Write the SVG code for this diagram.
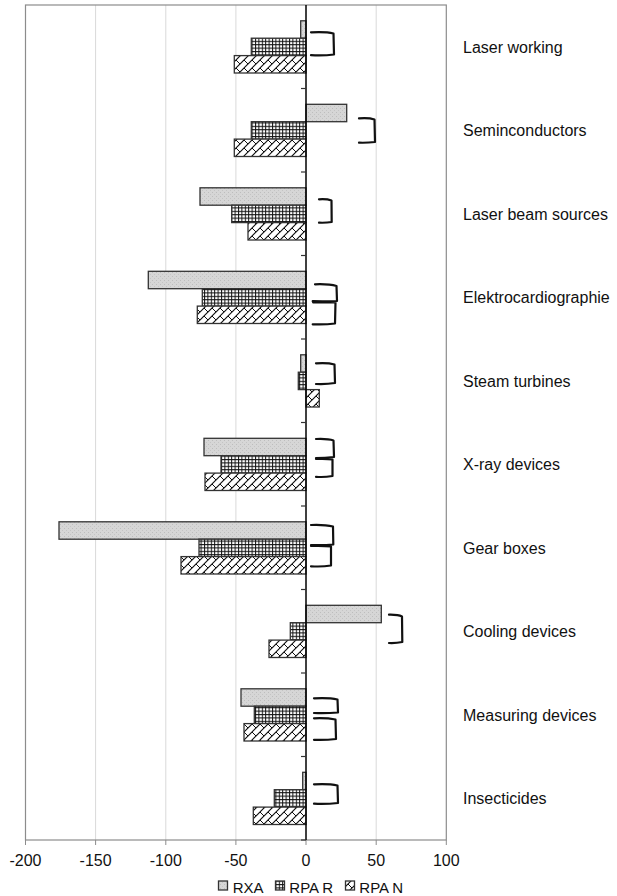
<svg xmlns="http://www.w3.org/2000/svg" width="617" height="896" viewBox="0 0 617 896">
<style>
.frame{fill:none;stroke:#8c8c8c;stroke-width:1.2}
.grid{stroke:#d9d9d9;stroke-width:1}
.tick{stroke:#8c8c8c;stroke-width:1}
.zero{stroke:#000;stroke-width:1.5}
.ztick{stroke:#333;stroke-width:1.2}
.rxa{fill:url(#pRXA);stroke:#333;stroke-width:1.3}
.rpar{fill:url(#pGrid);stroke:#333;stroke-width:1.3}
.rpan{fill:url(#pZig);stroke:#333;stroke-width:1.3}
.br{fill:none;stroke:#111;stroke-width:2.2;stroke-linecap:round;stroke-linejoin:round}
.cat{font-family:"Liberation Sans",Arial,sans-serif;font-size:16px;fill:#111}
.ax{font-family:"Liberation Sans",Arial,sans-serif;font-size:16px;fill:#111;text-anchor:middle}
.lg{font-family:"Liberation Sans",Arial,sans-serif;font-size:15px;fill:#111}
</style>
<defs>
<pattern id="pRXA" patternUnits="userSpaceOnUse" width="4" height="4">
<rect width="4" height="4" fill="#d6d6d6"/>
<rect x="0" y="0" width="1" height="1" fill="#bdbdbd"/>
<rect x="2" y="2" width="1" height="1" fill="#c4c4c4"/>
</pattern>
<pattern id="pGrid" patternUnits="userSpaceOnUse" width="3.4" height="3.4">
<rect width="3.4" height="3.4" fill="#fff"/>
<path d="M0 0.5H3.4M0.5 0V3.4" stroke="#111" stroke-width="1"/>
</pattern>
<pattern id="pZig" patternUnits="userSpaceOnUse" width="8" height="8">
<rect width="8" height="8" fill="#fff"/>
<path d="M-1 9L9 -1M-5 5L5 -5M3 13L13 3" stroke="#111" stroke-width="1.2"/>
<path d="M4 4L8 8" stroke="#111" stroke-width="1"/>
</pattern>
</defs>

<g id="plot-frame">
<line class="grid" x1="95.6" y1="5" x2="95.6" y2="840"/>
<line class="grid" x1="165.8" y1="5" x2="165.8" y2="840"/>
<line class="grid" x1="235.9" y1="5" x2="235.9" y2="840"/>
<line class="grid" x1="376.2" y1="5" x2="376.2" y2="840"/>
<rect class="frame" x="25.5" y="5" width="420.8" height="835"/>
<g class="tick">
<line x1="25.5" y1="840" x2="25.5" y2="845"/>
<line x1="95.6" y1="840" x2="95.6" y2="845"/>
<line x1="165.8" y1="840" x2="165.8" y2="845"/>
<line x1="235.9" y1="840" x2="235.9" y2="845"/>
<line x1="306" y1="840" x2="306" y2="845"/>
<line x1="376.2" y1="840" x2="376.2" y2="845"/>
<line x1="446.3" y1="840" x2="446.3" y2="845"/>
</g>
</g>

<g id="x-axis-labels">
<text class="ax" x="25.5" y="866">-200</text>
<text class="ax" x="95.6" y="866">-150</text>
<text class="ax" x="165.8" y="866">-100</text>
<text class="ax" x="235.9" y="866">-50</text>
<text class="ax" x="306" y="866">0</text>
<text class="ax" x="376.2" y="866">50</text>
<text class="ax" x="446.3" y="866">100</text>
</g>

<g id="cat-laser-working">
<rect class="rxa" x="300.7" y="20.8" width="5.3" height="17.4"/>
<rect class="rpar" x="251.3" y="38.2" width="54.7" height="17.4"/>
<rect class="rpan" x="234.3" y="55.6" width="71.7" height="17.4"/>
<text class="cat" x="463" y="52.7">Laser working</text>
</g>
<g id="cat-seminconductors">
<rect class="rxa" x="306" y="104.3" width="40.7" height="17.4"/>
<rect class="rpar" x="251.3" y="121.7" width="54.7" height="17.4"/>
<rect class="rpan" x="234.3" y="139.1" width="71.7" height="17.4"/>
<text class="cat" x="463" y="136.2">Seminconductors</text>
</g>
<g id="cat-laser-beam-sources">
<rect class="rxa" x="200" y="187.8" width="106" height="17.4"/>
<rect class="rpar" x="231.7" y="205.2" width="74.3" height="17.4"/>
<rect class="rpan" x="248" y="222.6" width="58" height="17.4"/>
<text class="cat" x="463" y="219.7">Laser beam sources</text>
</g>
<g id="cat-elektrocardiographie">
<rect class="rxa" x="148.3" y="271.3" width="157.7" height="17.4"/>
<rect class="rpar" x="202.3" y="288.7" width="103.7" height="17.4"/>
<rect class="rpan" x="197.3" y="306.1" width="108.7" height="17.4"/>
<text class="cat" x="463" y="303.2">Elektrocardiographie</text>
</g>
<g id="cat-steam-turbines">
<rect class="rxa" x="300.7" y="354.8" width="5.3" height="17.4"/>
<rect class="rpar" x="298.3" y="372.2" width="7.7" height="17.4"/>
<rect class="rpan" x="306" y="389.6" width="13.3" height="17.4"/>
<text class="cat" x="463" y="386.7">Steam turbines</text>
</g>
<g id="cat-x-ray-devices">
<rect class="rxa" x="204" y="438.3" width="102" height="17.4"/>
<rect class="rpar" x="221" y="455.7" width="85" height="17.4"/>
<rect class="rpan" x="205" y="473.1" width="101" height="17.4"/>
<text class="cat" x="463" y="470.2">X-ray devices</text>
</g>
<g id="cat-gear-boxes">
<rect class="rxa" x="59" y="521.8" width="247" height="17.4"/>
<rect class="rpar" x="199" y="539.2" width="107" height="17.4"/>
<rect class="rpan" x="181" y="556.6" width="125" height="17.4"/>
<text class="cat" x="463" y="553.7">Gear boxes</text>
</g>
<g id="cat-cooling-devices">
<rect class="rxa" x="306" y="605.3" width="75.3" height="17.4"/>
<rect class="rpar" x="290.3" y="622.7" width="15.7" height="17.4"/>
<rect class="rpan" x="269" y="640.1" width="37" height="17.4"/>
<text class="cat" x="463" y="637.2">Cooling devices</text>
</g>
<g id="cat-measuring-devices">
<rect class="rxa" x="241" y="688.8" width="65" height="17.4"/>
<rect class="rpar" x="254.3" y="706.2" width="51.7" height="17.4"/>
<rect class="rpan" x="244" y="723.6" width="62" height="17.4"/>
<text class="cat" x="463" y="720.7">Measuring devices</text>
</g>
<g id="cat-insecticides">
<rect class="rxa" x="302.7" y="772.3" width="3.3" height="17.4"/>
<rect class="rpar" x="274.3" y="789.7" width="31.7" height="17.4"/>
<rect class="rpan" x="253.3" y="807.1" width="52.7" height="17.4"/>
<text class="cat" x="463" y="804.2">Insecticides</text>
</g>

<g id="zero-axis">
<line class="zero" x1="306" y1="5" x2="306" y2="840"/>
<g class="ztick">
<line x1="301" y1="88.5" x2="306" y2="88.5"/>
<line x1="301" y1="172" x2="306" y2="172"/>
<line x1="301" y1="255.5" x2="306" y2="255.5"/>
<line x1="301" y1="339" x2="306" y2="339"/>
<line x1="301" y1="422.5" x2="306" y2="422.5"/>
<line x1="301" y1="506" x2="306" y2="506"/>
<line x1="301" y1="589.5" x2="306" y2="589.5"/>
<line x1="301" y1="673" x2="306" y2="673"/>
<line x1="301" y1="756.5" x2="306" y2="756.5"/>
<line x1="301" y1="840" x2="306" y2="840"/>
</g>
</g>

<g id="connectors">
<path class="br" d="M311 32.3Q326 31.5 333.5 33.5L334 54.5Q324 55.8 311 55.2"/>
<path class="br" d="M359 118.3Q369 117.5 374.5 119.5L375 142Q367 143 359 142.7"/>
<path class="br" d="M319 199.3Q327 198.8 331.5 200.5L331.7 222Q326 223 319 222.7"/>
<path class="br" d="M315 284.3Q329 283.8 336.5 286L337 301Q326 301.5 312.7 301.2M313 302.3Q326 302.2 335.5 302.5L335 323.5Q325 324.8 312.7 324.3"/>
<path class="br" d="M316 363.3Q328 362.5 334.5 364.5L335 383Q326 384.5 316 384"/>
<path class="br" d="M316 439Q328 438.5 333.5 440.5L334 457Q325 458 316 458M316 459Q326 458.5 332.5 459.5L332.5 476Q324 477.5 316 476.8"/>
<path class="br" d="M311 525Q325 524.5 333 526.5L333.3 544.5Q323 545.5 311 545M311 546Q322 545.5 331 546.5L331 565.5Q322 567 311 566.3"/>
<path class="br" d="M389 614.7Q398 614.5 402 616.5L402.3 642Q396 643.3 389 643"/>
<path class="br" d="M314 698.3Q329 697.5 337.5 699.5L338 712.5Q326 713.5 314 713"/>
<path class="br" d="M314 718.3Q327 717.8 335.5 719.5L336 739Q325 740.3 314 739.8"/>
<path class="br" d="M314 784.3Q329 783.5 337.5 785.5L338 803Q326 804.3 314 803.7"/>
</g>

<g id="legend">
<rect class="rxa" x="218.5" y="881" width="9" height="9"/>
<text class="lg" x="232.7" y="893.3">RXA</text>
<rect class="rpar" x="275.5" y="881" width="9" height="9"/>
<text class="lg" x="289.3" y="893.3">RPA R</text>
<rect class="rpan" x="345.5" y="881" width="9" height="9"/>
<text class="lg" x="359.3" y="893.3">RPA N</text>
</g>
</svg>
